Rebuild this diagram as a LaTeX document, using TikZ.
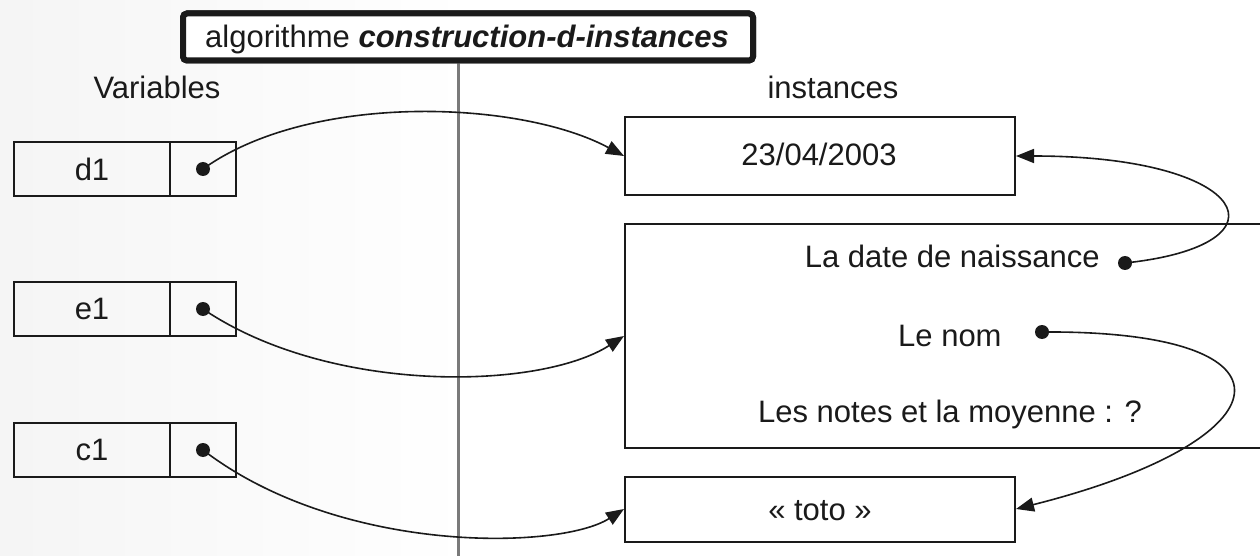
\documentclass[tikz,border=0pt]{standalone}
\usepackage{fontspec}
\setmainfont{Liberation Sans}
\usetikzlibrary{arrows.meta}
\definecolor{ink}{HTML}{1A1A1A}
\definecolor{axis}{HTML}{7A7A7A}
\tikzset{
  every node/.style={font=\fontsize{15.5}{18}\selectfont, text=ink},
  varcell/.style={draw=ink, line width=1pt, minimum width=78pt, minimum height=27pt, inner sep=0pt},
  ptrcell/.style={draw=ink, line width=1pt, minimum width=33pt, minimum height=27pt, inner sep=0pt},
  instbox/.style={draw=ink, line width=1pt, minimum width=195pt, inner sep=0pt},
  pdot/.style={circle, fill=ink, inner sep=0pt, minimum size=7pt},
  lbl/.style={anchor=base, inner sep=0pt},
  ptr/.style={draw=ink, line width=0.8pt, -{Triangle[length=9pt,width=7pt]}, shorten <=0pt}
}
\begin{document}
\begin{tikzpicture}[x=0.5pt, y=-0.5pt]
\useasboundingbox (0,0) rectangle (1260,556);
\fill[white] (0,0) rectangle (1260,556);
\shade[left color=black!4, right color=white] (0,0) rectangle (470,556);
% vertical separator
\coordinate (bottom) at (458,556);
\node[draw=ink, line width=3pt, rounded corners=2pt, fill=white, minimum width=285pt, minimum height=23.5pt, inner sep=0pt] (title) at (468,37) {};
\draw[axis, line width=1.5pt] (title.south -| bottom) ++(0,-2) -- (bottom);
\node[draw=ink, line width=3pt, rounded corners=2pt, fill=white, minimum width=285pt, minimum height=23.5pt, inner sep=0pt] (titlebox) at (468,37) {};
\node[lbl] (titletext) at (467,48) {algorithme \textbf{\textit{construction-d-instances}}};
% column headers
\node[lbl] (hvar) at (157,99) {Variables};
\node[lbl] (hinst) at (833,99) {instances};
% variables
\node[varcell] (vd1) at (92,169) {d1};
\node[ptrcell] (pd1) at (203,169) {};
\node[pdot] (dd1) at (pd1.center) {};
\node[varcell] (ve1) at (92,309) {e1};
\node[ptrcell] (pe1) at (203,309) {};
\node[pdot] (de1) at (pe1.center) {};
\node[varcell] (vc1) at (92,450) {c1};
\node[ptrcell] (pc1) at (203,450) {};
\node[pdot] (dc1) at (pc1.center) {};
% instances
\node[instbox, minimum height=39pt] (idate) at (820,156) {};
\node[lbl] (tdate) at (819,166) {23/04/2003};
\node[draw=ink, line width=1pt, minimum width=340pt, minimum height=112pt, inner sep=0pt] (obj) at (965,336) {};
\node[lbl, anchor=base east] (tnaiss) at (1100,268) {La date de naissance};
\node[pdot] (dnaiss) at (1125,263) {};
\node[lbl, anchor=base east] (tnom) at (1002,346) {Le nom};
\node[pdot] (dnom) at (1042,332) {};
\node[lbl] (tnotes) at (950,422) {Les notes et la moyenne : ?};
\node[instbox, minimum height=32.5pt] (itoto) at (820,509) {};
\node[lbl] (ttoto) at (820,520) {« toto »};
% pointers
\path[ptr] (dd1.center) .. controls (310,92) and (520,100) .. (idate.west);
\path[ptr] (de1.center) .. controls (330,395) and (540,390) .. (obj.west);
\path[ptr] (dc1.center) .. controls (340,555) and (560,550) .. (itoto.west);
\path[ptr] (dnaiss.center) .. controls (1295,245) and (1250,156) .. (idate.east);
\path[ptr] (dnom.center) .. controls (1310,330) and (1290,440) .. (itoto.east);
\end{tikzpicture}
\end{document}
